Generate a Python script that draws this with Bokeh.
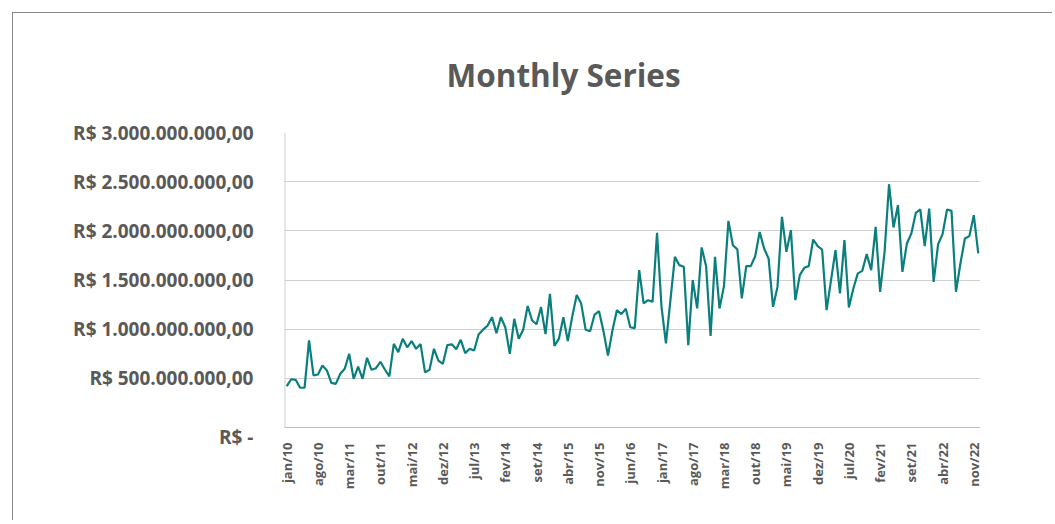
import math
from bokeh.plotting import figure
from bokeh.models import FixedTicker, Range1d, ColumnDataSource, Title, Span
from bokeh.embed import file_html
from bokeh.resources import INLINE

# Monthly values, R$ millions (jan/10 ... dez/22)
values_2010_2011 = [420, 491, 485, 404, 404, 885, 529, 539, 631, 580, 454, 444,
                    546, 597, 749, 495, 620, 495, 709, 587, 603, 668, 590, 519]
values_2012_2013 = [851, 766, 902, 815, 878, 800, 848, 561, 587, 800, 681, 648,
                    838, 846, 795, 892, 756, 800, 783, 945, 995, 1035, 1122, 960]
values_2014_2015 = [1122, 1017, 750, 1105, 902, 995, 1236, 1088, 1050, 1224, 950, 1360,
                    830, 902, 1122, 880, 1130, 1348, 1260, 994, 978, 1149, 1183, 978]
values_2016_2017 = [732, 987, 1193, 1153, 1207, 1020, 1010, 1600, 1262, 1295, 1278, 1979,
                    1227, 855, 1295, 1735, 1651, 1634, 838, 1499, 1211, 1831, 1641, 930]
values_2018_2019 = [1735, 1211, 1438, 2101, 1854, 1811, 1313, 1641, 1641, 1742, 1989, 1821,
                    1719, 1227, 1430, 2142, 1786, 2007, 1295, 1549, 1624, 1641, 1912, 1844]
values_2020_2021 = [1810, 1194, 1499, 1803, 1363, 1905, 1221, 1414, 1567, 1593, 1763, 1600,
                    2040, 1380, 1786, 2474, 2034, 2261, 1583, 1871, 1973, 2182, 2217, 1844]
values_2022 = [2227, 1481, 1864, 1966, 2217, 2203, 1380, 1668, 1922, 1946, 2159, 1770]

tick_labels = ["jan/10", "ago/10", "mar/11", "out/11", "mai/12", "dez/12", "jul/13",
               "fev/14", "set/14", "abr/15", "nov/15", "jun/16", "jan/17", "ago/17",
               "mar/18", "out/18", "mai/19", "dez/19", "jul/20", "fev/21", "set/21",
               "abr/22", "nov/22"]
y_ticks = [0, 500000000, 1000000000, 1500000000, 2000000000, 2500000000, 3000000000]
y_tick_labels = ["R$ -", "R$ 500.000.000,00", "R$ 1.000.000.000,00", "R$ 1.500.000.000,00",
                 "R$ 2.000.000.000,00", "R$ 2.500.000.000,00", "R$ 3.000.000.000,00"]

vals = (values_2010_2011 + values_2012_2013 + values_2014_2015 + values_2016_2017
        + values_2018_2019 + values_2020_2021 + values_2022)
n = len(vals)
src = ColumnDataSource(dict(x=list(range(n)), y=[v * 1e6 for v in vals]))

TXT = "#595959"
FONT = "Open Sans"
AXIS_GREY = "#BFBFBF"
GRID_GREY = "#D0D0D0"

# the frame runs a few pixels below zero so the "R$ -" label can sit a bit lower
ymax = y_ticks[-1]
below = ymax * 9 / 295
zero_label_pos = -below

p = figure(width=1040, height=508, output_backend="svg", toolbar_location=None,
           x_range=Range1d(-0.5, n - 0.5), y_range=Range1d(-below, ymax),
           min_border_left=271, min_border_right=73, min_border_top=119, min_border_bottom=85)
p.margin = (12, 0, 0, 12)
p.styles = {"border-top": "1px solid #8a8a8a", "border-left": "1px solid #8a8a8a"}
p.outline_line_color = None
p.background_fill_color = "white"
p.border_fill_color = "white"

p.title = Title(text="Monthly Series", align="left", offset=162, standoff=74,
                text_font=FONT, text_font_size="31.5px", text_font_style="bold",
                text_color=TXT)

# gridlines (non-zero ticks) and the category axis line at zero
p.ygrid.ticker = FixedTicker(ticks=y_ticks[1:])
p.ygrid.grid_line_color = GRID_GREY
p.ygrid.grid_line_width = 1
p.xgrid.grid_line_color = None
p.add_layout(Span(location=0, dimension="width", line_color=AXIS_GREY, line_width=1))
p.segment(x0=[-0.5], y0=[0], x1=[-0.5], y1=[ymax], line_color=GRID_GREY, line_width=2)

p.line("x", "y", source=src, line_color="#0A7F7E", line_width=2.2)

p.xaxis.ticker = FixedTicker(ticks=list(range(0, n, 7)))
p.xaxis.major_label_overrides = {i * 7: t for i, t in enumerate(tick_labels)}
p.xaxis.major_label_orientation = math.pi / 2
p.xaxis.major_label_text_font = FONT
p.xaxis.major_label_text_font_style = "bold"
p.xaxis.major_label_text_font_size = "13px"
p.xaxis.major_label_text_color = TXT
p.xaxis.major_label_standoff = 6
p.xaxis.major_tick_line_color = None
p.xaxis.minor_tick_line_color = None
p.xaxis.major_tick_out = 0
p.xaxis.axis_line_color = None

p.yaxis.ticker = FixedTicker(ticks=[zero_label_pos] + y_ticks[1:])
p.yaxis.major_label_overrides = dict(zip([zero_label_pos] + y_ticks[1:], y_tick_labels))
p.yaxis.major_label_text_font = FONT
p.yaxis.major_label_text_font_style = "bold"
p.yaxis.major_label_text_font_size = "19px"
p.yaxis.major_label_text_color = TXT
p.yaxis.major_label_standoff = 31
p.yaxis.major_tick_line_color = None
p.yaxis.minor_tick_line_color = None
p.yaxis.major_tick_out = 0
p.yaxis.axis_line_color = None

open("out.html", "w").write(file_html(p, INLINE))
